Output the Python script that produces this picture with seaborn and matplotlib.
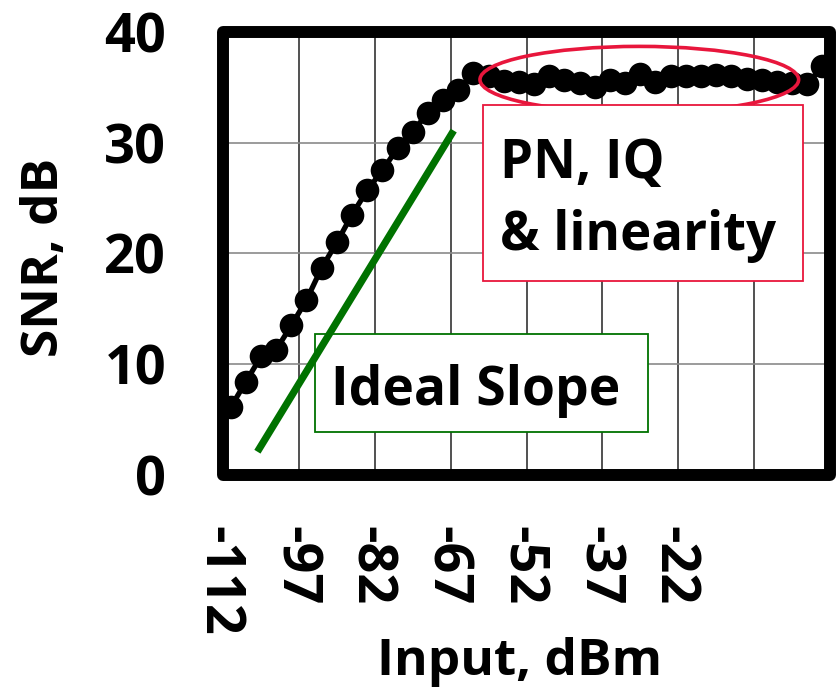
import numpy as np
import pandas as pd
import matplotlib
matplotlib.use("Agg")
import matplotlib.pyplot as plt
import matplotlib.transforms as mtransforms
from matplotlib.patches import Ellipse, Rectangle
import seaborn as sns

# ---- data ----
input_dbm = list(range(-112, 6, 3))  # -112 ... 5, step 3 dB (40 points)
snr_db = [6.1, 8.4, 10.7, 11.3, 13.5, 15.8, 18.7, 21.0, 23.5, 25.7,
          27.5, 29.5, 31.0, 32.7, 33.9, 34.8, 36.3, 36.0, 35.6, 35.5,
          35.3, 36.0, 35.7, 35.4, 35.0, 35.7, 35.4, 36.2, 35.5, 36.0,
          36.0, 36.0, 36.1, 36.0, 35.8, 35.7, 35.5, 35.4, 35.3, 36.9]
ideal_x = [-106.7, -67.9]
ideal_y = [2.1, 31.1]
xtick_values = [-112, -97, -82, -67, -52, -37, -22]
ytick_values = [0, 10, 20, 30, 40]

df = pd.DataFrame({"Input": input_dbm, "SNR": snr_db})
ideal = pd.DataFrame({"x": ideal_x, "y": ideal_y})

sns.set_style("white")
plt.rcParams["font.family"] = ["Open Sans", "DejaVu Sans"]
plt.rcParams["font.weight"] = "bold"
for key in ["text.color", "axes.labelcolor", "xtick.color", "ytick.color"]:
    plt.rcParams[key] = "black"

fig = plt.figure(figsize=(8.4, 6.94), dpi=100)
ax = fig.add_axes([0.2655, 0.3156, 0.7226, 0.6383])

step = input_dbm[1] - input_dbm[0]
ax.set_xlim(input_dbm[0] - step / 2, input_dbm[-1] + step / 2)
ax.set_ylim(0, 40)

# grid
for gx in input_dbm[5::5]:
    ax.axvline(gx - step / 2, color="#333333", lw=1.2, zorder=1)
for gy in ytick_values[1:-1]:
    ax.axhline(gy, color="#8a8a8a", lw=1.2, zorder=1)

sns.lineplot(data=df, x="Input", y="SNR", ax=ax, color="black", lw=3.8,
             marker="o", markersize=17, markeredgewidth=0,
             markerfacecolor="black", zorder=3, clip_on=False)

red = "#E8163C"
green = "#007200"
ax.add_patch(Ellipse((-31.2, 35.7), 63.0, 6.0, fill=False, edgecolor=red,
                     lw=2.6, zorder=4))

# annotation boxes
ax.add_patch(Rectangle((0.428, 0.438), 0.528, 0.397, transform=ax.transAxes,
                       facecolor="white", edgecolor=red, lw=1.3, zorder=5))
ax.text(0.456, 0.670, "PN, IQ", transform=ax.transAxes, fontsize=38,
        fontweight="bold", va="baseline", ha="left", zorder=7)
ax.text(0.456, 0.508, "& linearity", transform=ax.transAxes, fontsize=38,
        fontweight="bold", va="baseline", ha="left", zorder=7)

ax.add_patch(Rectangle((0.1516, 0.097), 0.5484, 0.221, transform=ax.transAxes,
                       facecolor="white", edgecolor=green, lw=1.3, zorder=5))
ax.text(0.178, 0.158, "Ideal Slope", transform=ax.transAxes, fontsize=38.5,
        fontweight="bold", va="baseline", ha="left", zorder=7)

sns.lineplot(data=ideal, x="x", y="y", ax=ax, color=green, lw=5.2,
             zorder=6, solid_capstyle="butt")

# frame with rounded corners
for s in ax.spines.values():
    s.set_visible(False)
ax.add_patch(Rectangle((0, 0), 1, 1, transform=ax.transAxes, fill=False,
                       edgecolor="black", lw=8.6, joinstyle="round",
                       zorder=8, clip_on=False))

ax.set_xticks(xtick_values)
ax.set_xticklabels([str(v) for v in xtick_values], rotation=-90,
                   fontsize=39, fontweight="bold")
ax.set_yticks(ytick_values)
ax.set_yticklabels([str(v) for v in ytick_values], fontsize=39,
                   fontweight="bold")
ax.tick_params(axis="x", length=0, pad=37)
ax.tick_params(axis="y", length=0, pad=41)
shift = mtransforms.ScaledTranslation(-12 / 100, 0, fig.dpi_scale_trans)
for lbl in ax.get_xticklabels():
    lbl.set_va("top")
    lbl.set_ha("center")
    lbl.set_transform(lbl.get_transform() + shift)

ax.set_xlabel("Input, dBm", fontsize=37, fontweight="bold")
ax.set_ylabel("SNR, dB", fontsize=37, fontweight="bold")
ax.xaxis.label.set_va("center")
ax.yaxis.label.set_va("center")
ax.xaxis.set_label_coords(0.489, -0.422)
ax.yaxis.set_label_coords(-0.293, 0.492)
if ax.get_legend() is not None:
    ax.get_legend().remove()

fig.savefig("out.png", dpi=100)
